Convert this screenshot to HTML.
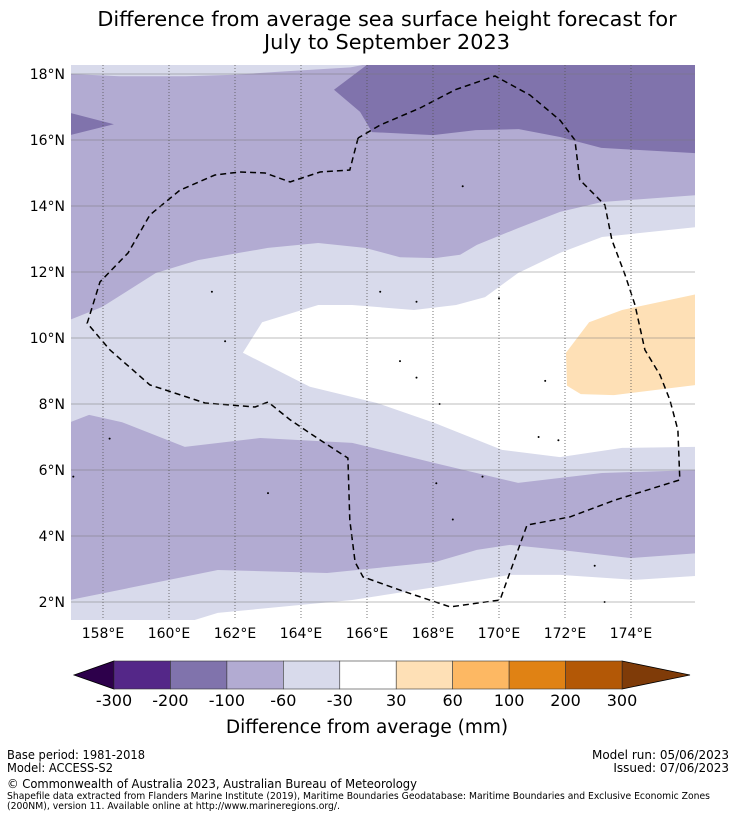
<!DOCTYPE html>
<html><head><meta charset="utf-8"><style>
html,body{margin:0;padding:0;background:#fff;}
svg{display:block;font-family:"DejaVu Sans","Liberation Sans",sans-serif;}
</style></head><body>
<svg id="chart" width="736" height="816" viewBox="0 0 736 816">
<defs><clipPath id="mapclip"><rect x="71" y="65" width="624" height="555"/></clipPath></defs>
<text x="387" y="26" font-size="20.8" text-anchor="middle">Difference from average sea surface height forecast for</text>
<text x="387" y="49" font-size="20.8" text-anchor="middle">July to September 2023</text>
<g id="map" clip-path="url(#mapclip)"></g>
<g id="grid"></g>
<g id="axes"></g>
<g id="cbar"></g>
<text x="367" y="733" font-size="18.5" text-anchor="middle">Difference from average (mm)</text>
<g font-size="12">
<text x="7" y="759" textLength="138" lengthAdjust="spacingAndGlyphs">Base period: 1981-2018</text>
<text x="7" y="772" textLength="106" lengthAdjust="spacingAndGlyphs">Model: ACCESS-S2</text>
<text x="729" y="759" text-anchor="end">Model run: 05/06/2023</text>
<text x="729" y="772" text-anchor="end">Issued: 07/06/2023</text>
<text x="7" y="788" textLength="410" lengthAdjust="spacingAndGlyphs">© Commonwealth of Australia 2023, Australian Bureau of Meteorology</text>
<text x="7" y="799" font-size="9.5" textLength="703" lengthAdjust="spacingAndGlyphs">Shapefile data extracted from Flanders Marine Institute (2019), Maritime Boundaries Geodatabase: Maritime Boundaries and Exclusive Economic Zones</text>
<text x="7" y="809" font-size="9.5" textLength="333" lengthAdjust="spacingAndGlyphs">(200NM), version 11. Available online at http://www.marineregions.org/.</text>
</g>
</svg>
<script>
const NS='http://www.w3.org/2000/svg';
const levels=[-300,-200,-100,-60,-30,30,60,100,200,300];
const levelColors=['#542788','#8073ac','#b2abd2','#d8daeb','#ffffff','#fee0b6','#fdb863','#e08214','#b35806'];
const extendColors=['#2d004b','#7f3b08'];
const lonTicks=[158,160,162,164,166,168,170,172,174];
const latTicks=[2,4,6,8,10,12,14,16,18];
const darkTop=[[166.03,18.3],[165.0,17.52],[165.79,16.85],[166.15,16.24],[168.0,16.15],[169.3,16.3],[170.6,16.33],[171.85,16.09],[173.1,15.76],[176,15.6],[176,18.3]];
const darkLeft=[[157,16.82],[158.33,16.48],[157,16.15]];
const lightTopStrip=[[157,18.3],[157,18.0],[158.5,17.93],[160.5,17.93],[162,17.98],[163.5,18.08],[165.5,18.2],[166,18.3]];
const lightUpper=[[157,10.55],[157.97,10.94],[159.6,11.97],[160.88,12.36],[162.12,12.58],[163,12.73],[164.52,12.88],[165.94,12.73],[167.0,12.45],[168.06,12.42],[168.82,12.52],[169.33,12.82],[170.58,13.33],[171.85,13.82],[173.12,14.12],[176,14.33]];
const lightLower=[[157,7.45],[157.58,7.67],[158.58,7.45],[160.48,6.7],[162.76,6.97],[165.55,6.82],[168.06,6.21],[170.58,5.61],[173.12,5.91],[176,6.0]];
const whiteTop=[[162.24,9.55],[162.82,10.48],[164.52,11.0],[165.55,11.0],[167.42,10.85],[168.7,11.0],[169.58,11.24],[170.58,11.97],[171.85,12.58],[173.12,13.06],[176,13.36]];
const whiteBottom=[[162.24,9.55],[164.27,8.52],[166.3,8.03],[168.06,7.42],[170.09,6.61],[171.85,6.39],[173.73,6.67],[176,6.7]];
const orangePatch=[[172.03,9.55],[172.73,10.48],[173.73,10.85],[176,11.33],[176,8.58],[173.48,8.27],[172.48,8.3],[172.06,8.55]];
const bottomLight=[[157,2.06],[161.48,2.97],[164.79,2.88],[168.06,3.21],[169.33,3.58],[170.33,3.73],[171.85,3.58],[174.0,3.33],[176,3.48]];
const bottomWhite=[[160.6,1.4],[161.48,1.67],[165.55,2.06],[168.06,2.45],[170.33,2.82],[171.85,2.82],[174.12,2.67],[176,2.79]];
const eez=[[165.73,16.06],[165.48,15.09],[164.58,15.03],[163.67,14.73],[162.91,15.0],[162.15,15.03],[161.39,14.94],[160.33,14.48],[159.42,13.73],[158.76,12.58],[157.91,11.7],[157.52,10.45],[158.21,9.64],[159.42,8.58],[161.09,8.03],[162.61,7.91],[163.0,8.06],[163.67,7.52],[164.58,6.91],[165.42,6.36],[165.48,4.48],[165.64,3.21],[165.88,2.76],[167.0,2.36],[168.52,1.85],[170.03,2.06],[170.85,4.33],[172.15,4.58],[173.52,5.09],[175.48,5.7],[175.42,7.21],[175.18,8.12],[174.88,8.88],[174.42,9.64],[174.12,11.0],[173.82,11.91],[173.42,12.97],[173.21,14.03],[172.45,14.79],[172.3,16.0],[171.85,16.6],[170.94,17.36],[169.88,17.94],[168.67,17.52],[167.61,16.97],[166.39,16.45],[165.73,16.06]];
const islands=[[158.2,6.95],[157.1,5.8],[163.0,5.3],[161.3,11.4],[166.4,11.4],[167.5,11.1],[168.9,14.6],[170.0,11.2],[161.7,9.9],[167.0,9.3],[167.5,8.8],[168.2,8.0],[171.4,8.7],[171.2,7.0],[171.8,6.9],[169.5,5.8],[168.1,5.6],[168.6,4.5],[172.9,3.1],[173.2,2.0]];

function X(lon){return 103+(lon-158)*33;}
function Y(lat){return 74-(lat-18)*33;}
function pts(a){return a.map(p=>X(p[0]).toFixed(1)+','+Y(p[1]).toFixed(1)).join(' ');}
function el(tag,attrs,parent){const e=document.createElementNS(NS,tag);for(const k in attrs)e.setAttribute(k,attrs[k]);parent.appendChild(e);return e;}
const map=document.getElementById('map');
let r=el('rect',{x:71,y:65,width:624,height:555,fill:levelColors[2]},map);


function poly(arr,fill,name){const p=el('polygon',{points:pts(arr),fill:fill},map);

}
poly(darkTop,levelColors[1],'band-minus200-top');
poly(darkLeft,levelColors[1],'band-minus200-left');
poly(lightTopStrip,levelColors[3],'band-minus60-top-strip');
poly(lightUpper.concat(lightLower.slice().reverse()),levelColors[3],'band-minus60-central');
poly(whiteTop.concat(whiteBottom.slice(1).reverse()),levelColors[4],'band-neutral-central');
poly(orangePatch,levelColors[5],'band-plus30-patch');
poly(bottomLight.concat([[176,1.3],[157,1.3]]),levelColors[3],'band-minus60-bottom');
poly(bottomWhite.concat([[176,1.3],[160.6,1.3]]),levelColors[4],'band-neutral-bottom');
islands.forEach(p=>{const c=el('circle',{cx:X(p[0]),cy:Y(p[1]),r:1,fill:'#000'},map);

});
const ez=el('polyline',{points:pts(eez),fill:'none',stroke:'#000','stroke-width':1.5,'stroke-dasharray':'6,4'},map);



const grid=document.getElementById('grid'),axes=document.getElementById('axes');
latTicks.forEach(t=>{const y=Y(t);
const l=el('line',{x1:71,x2:695,y1:y,y2:y,stroke:'#7a7a7a','stroke-width':0.6},grid);


const tx=el('text',{x:65,y:y+5,'font-size':14,'text-anchor':'end'},axes);tx.textContent=t+'°N';

});
lonTicks.forEach(t=>{const x=X(t);
const l=el('line',{x1:x,x2:x,y1:65,y2:620,stroke:'#555','stroke-width':0.8,'stroke-dasharray':'1,2'},grid);


const tx=el('text',{x:x,y:638,'font-size':14,'text-anchor':'middle'},axes);tx.textContent=t+'°E';

});

const cb=document.getElementById('cbar');
const cx0=114,cx1=622,cy0=661,cy1=689,bw=(cx1-cx0)/levelColors.length;
function CX(i){return cx0+i*bw;}
let t1=el('polygon',{points:`74,675 ${cx0},${cy0} ${cx0},${cy1}`,fill:extendColors[0],stroke:'#000','stroke-width':0.8},cb);


let t2=el('polygon',{points:`690,675 ${cx1},${cy0} ${cx1},${cy1}`,fill:extendColors[1],stroke:'#000','stroke-width':0.8},cb);


levelColors.forEach((c,i)=>{const b=el('rect',{x:CX(i),y:cy0,width:bw,height:cy1-cy0,fill:c,stroke:'#333','stroke-width':0.6},cb);

});
levels.forEach((v,i)=>{const tx=el('text',{x:CX(i),y:706,'font-size':16,'text-anchor':'middle'},cb);tx.textContent=v;

});
</script>
</body></html>
